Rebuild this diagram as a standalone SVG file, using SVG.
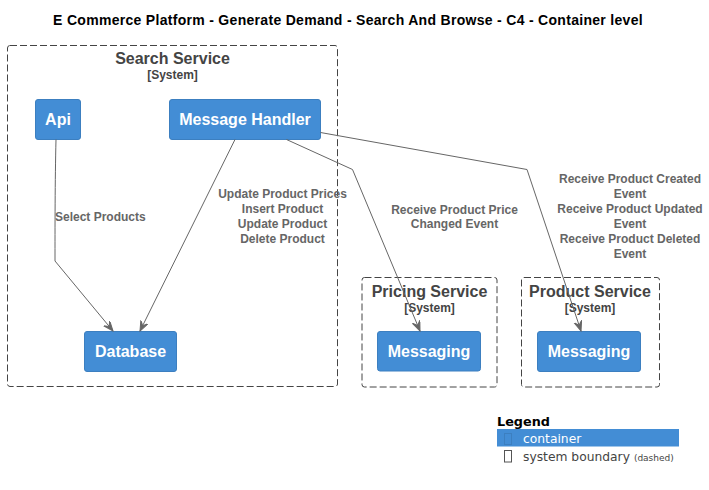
<svg xmlns="http://www.w3.org/2000/svg" width="709" height="490" viewBox="0 0 709 490">
<style>
.bnd{fill:none;stroke:#444444;stroke-width:1;stroke-dasharray:7,3}
.bt{font-family:"Liberation Sans",Arial,sans-serif;font-weight:bold;fill:#444444;text-anchor:middle}
.bt1{font-size:16px}
.bt2{font-size:12px}
.ct{fill:#438DD5;stroke:#3C7FC0;stroke-width:1}
.cl{font-family:"Liberation Sans",Arial,sans-serif;font-weight:bold;font-size:16px;fill:#FFFFFF;text-anchor:middle}
.ln{fill:none;stroke:#666666;stroke-width:1}
.lb{font-family:"Liberation Sans",Arial,sans-serif;font-weight:bold;font-size:12px;fill:#666666;text-anchor:middle}
.lg{font-family:"DejaVu Sans",Verdana,sans-serif;font-size:12.3px}
</style>
<defs>
<marker id="ah" markerUnits="userSpaceOnUse" markerWidth="12" markerHeight="10" refX="10" refY="4" orient="auto" viewBox="0 0 12 10">
<path d="M0,0 L10,4 L0,8 L4,4 Z" fill="#666666" stroke="#666666" stroke-width="1"/>
</marker>
</defs>
<rect width="709" height="490" fill="#FFFFFF"/>
<text x="348" y="25" font-family="Liberation Sans,Arial,sans-serif" font-weight="bold" font-size="14" letter-spacing="0.3" text-anchor="middle" fill="#000000">E Commerce Platform - Generate Demand - Search And Browse - C4 - Container level</text>

<g id="search_service">
<rect class="bnd" x="7.5" y="45.5" width="330" height="341" rx="2.5"/>
<text class="bt bt1" x="172.5" y="64">Search Service</text>
<text class="bt bt2" x="172.5" y="79">[System]</text>
</g>
<g id="pricing_service">
<rect class="bnd" x="362" y="277.5" width="135" height="109.5" rx="2.5"/>
<text class="bt bt1" x="429.5" y="297">Pricing Service</text>
<text class="bt bt2" x="429.5" y="311.5">[System]</text>
</g>
<g id="product_service">
<rect class="bnd" x="521.5" y="277.5" width="138" height="109.5" rx="2.5"/>
<text class="bt bt1" x="590" y="297">Product Service</text>
<text class="bt bt2" x="590" y="311.5">[System]</text>
</g>

<g id="api">
<rect class="ct" x="35.5" y="99.5" width="45" height="40" rx="2.5"/>
<text class="cl" x="58" y="125">Api</text>
</g>
<g id="message_handler">
<rect class="ct" x="169.5" y="99.5" width="151" height="40" rx="2.5"/>
<text class="cl" x="245" y="125">Message Handler</text>
</g>
<g id="database">
<rect class="ct" x="84.5" y="331.5" width="92" height="40" rx="2.5"/>
<text class="cl" x="130.5" y="357">Database</text>
</g>
<g id="pricing_messaging">
<rect class="ct" x="377.5" y="331.5" width="103" height="39.5" rx="2.5"/>
<text class="cl" x="429" y="357">Messaging</text>
</g>
<g id="product_messaging">
<rect class="ct" x="537.5" y="331.5" width="103" height="40" rx="2.5"/>
<text class="cl" x="589" y="357">Messaging</text>
</g>

<g id="connectors">
<path class="ln" d="M56,139.5 C55,180 55,230 55,261 L113,331" marker-end="url(#ah)"/>
<text class="lb" x="55" y="220.5" style="text-anchor:start">Select Products</text>
<path class="ln" d="M235,139.5 L140,331" marker-end="url(#ah)"/>
<text class="lb" x="282.5" y="197.5">Update Product Prices</text>
<text class="lb" x="282.5" y="212.5">Insert Product</text>
<text class="lb" x="282.5" y="227.5">Update Product</text>
<text class="lb" x="282.5" y="242.5">Delete Product</text>
<path class="ln" d="M286.5,139.5 L352.5,169.5 L420,331" marker-end="url(#ah)"/>
<text class="lb" x="454.5" y="213.5">Receive Product Price</text>
<text class="lb" x="454.5" y="228">Changed Event</text>
<path class="ln" d="M320.5,132.5 L527,169.5 L581,331" marker-end="url(#ah)"/>
<text class="lb" x="630" y="183">Receive Product Created</text>
<text class="lb" x="630" y="198">Event</text>
<text class="lb" x="630" y="213">Receive Product Updated</text>
<text class="lb" x="630" y="228">Event</text>
<text class="lb" x="630" y="243">Receive Product Deleted</text>
<text class="lb" x="630" y="258">Event</text>
</g>

<g id="legend">
<text x="497" y="425.5" font-family="DejaVu Sans,Verdana,sans-serif" font-weight="bold" font-size="12.8" fill="#000000">Legend</text>
<rect x="497" y="429" width="182" height="17.5" fill="#438DD5"/>
<rect x="504.5" y="433.5" width="7" height="11" fill="none" stroke="#3C7FC0" stroke-width="1"/>
<text class="lg" x="523" y="443" fill="#FFFFFF">container</text>
<rect x="504.5" y="450.5" width="7" height="11.5" fill="none" stroke="#555555" stroke-width="1"/>
<text class="lg" x="523" y="460.5" fill="#444444">system boundary <tspan font-size="9">(dashed)</tspan></text>
</g>
</svg>
